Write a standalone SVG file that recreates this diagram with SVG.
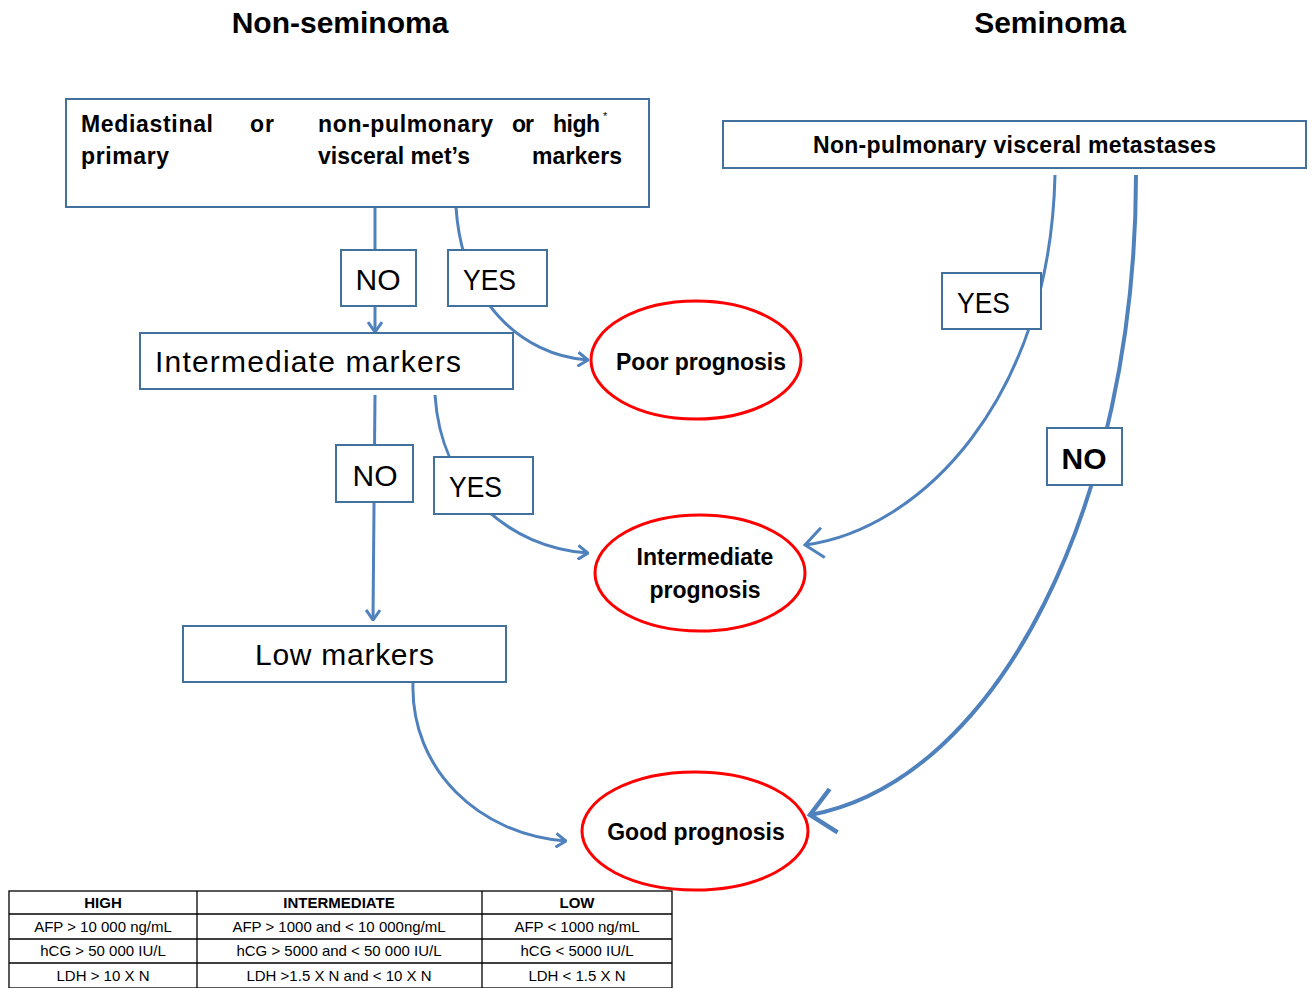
<svg xmlns="http://www.w3.org/2000/svg" width="1313" height="988" viewBox="0 0 1313 988">
<defs>
<style>
text{font-family:"Liberation Sans",Arial,sans-serif;fill:#000}
.title{font-size:30px;font-weight:bold;text-anchor:middle}
.box{fill:#fff;stroke:#41719C;stroke-width:2}
.ell{fill:#fff;stroke:#FF0000;stroke-width:3}
.con{fill:none;stroke:#4F81BD;stroke-width:3}
.lbl{font-size:30px}
.bt{font-size:23px;font-weight:bold}
.pt{font-size:23px;font-weight:bold;text-anchor:middle}
.tb{fill:none;stroke:#000;stroke-width:1.3}
.th{font-size:15px;font-weight:bold;text-anchor:middle}
.td{font-size:15px;text-anchor:middle}
</style>
<marker id="arr" viewBox="0 0 12 16" refX="11" refY="8" markerWidth="12" markerHeight="16" markerUnits="userSpaceOnUse" orient="auto">
<path d="M1,1 L11,8 L1,15" fill="none" stroke="#4F81BD" stroke-width="3"/>
</marker>
<marker id="arrBig" viewBox="0 0 30 50" refX="27" refY="25" markerWidth="30" markerHeight="50" markerUnits="userSpaceOnUse" orient="auto">
<path d="M3,3 L27,25 L3,47" fill="none" stroke="#4F81BD" stroke-width="4.5"/>
</marker>
<marker id="arrMid" viewBox="0 0 22 34" refX="20" refY="17" markerWidth="22" markerHeight="34" markerUnits="userSpaceOnUse" orient="auto">
<path d="M2,2 L20,17 L2,32" fill="none" stroke="#4F81BD" stroke-width="3"/>
</marker>
</defs>
<rect width="1313" height="988" fill="#fff"/>
<text class="title" x="340" y="33">Non-seminoma</text>
<text class="title" x="1050" y="33">Seminoma</text>

<g id="connectors">
<path class="con" d="M375,207 L375,332" marker-end="url(#arr)"/>
<path class="con" d="M456,207 C462,300 520,355 588,360" marker-end="url(#arr)"/>
<path class="con" d="M375,395 L373,620" marker-end="url(#arr)"/>
<path class="con" d="M435,395 C441,490 510,548 588,553" marker-end="url(#arr)"/>
<path class="con" d="M413,682 C410,770 480,835 566,841" marker-end="url(#arr)"/>
<path class="con" d="M1055,175 C1050,400 920,530 805,545" marker-end="url(#arrMid)"/>
<path class="con" style="stroke-width:4" d="M1136,175 C1136,500 1000,780 810,815" marker-end="url(#arrBig)"/>
</g>

<g id="node-mediastinal">
<rect class="box" x="66" y="99" width="583" height="108"/>
<text class="bt" x="81" y="132" textLength="132">Mediastinal</text>
<text class="bt" x="250" y="132" textLength="24">or</text>
<text class="bt" x="318" y="132" textLength="175">non-pulmonary</text>
<text class="bt" x="512" y="132" textLength="22">or</text>
<text class="bt" x="553" y="132" textLength="47">high</text>
<text x="603" y="120" style="font-size:11px">*</text>
<text class="bt" x="81" y="164" textLength="88">primary</text>
<text class="bt" x="318" y="164" textLength="152">visceral met’s</text>
<text class="bt" x="532" y="164" textLength="90">markers</text>
</g>

<g id="node-nonpulm">
<rect class="box" x="723" y="121" width="583" height="47"/>
<text class="bt" x="813" y="153" textLength="403">Non-pulmonary visceral  metastases</text>
</g>

<g id="label-no1">
<rect class="box" x="341" y="250" width="75" height="56"/>
<text class="lbl" x="378" y="290" text-anchor="middle">NO</text>
</g>
<g id="label-yes1">
<rect class="box" x="448" y="250" width="99" height="56"/>
<text class="lbl" x="463" y="290" textLength="53" lengthAdjust="spacingAndGlyphs">YES</text>
</g>

<g id="node-intermediate-markers">
<rect class="box" x="140" y="333" width="373" height="56"/>
<text class="lbl" x="155" y="372" textLength="306">Intermediate markers</text>
</g>

<g id="node-poor">
<ellipse class="ell" cx="696" cy="360" rx="105" ry="59"/>
<text class="pt" x="701" y="370">Poor prognosis</text>
</g>

<g id="label-no2">
<rect class="box" x="336" y="445" width="77" height="57"/>
<text class="lbl" x="375" y="486" text-anchor="middle">NO</text>
</g>
<g id="label-yes2">
<rect class="box" x="434" y="457" width="99" height="57"/>
<text class="lbl" x="449" y="497" textLength="53" lengthAdjust="spacingAndGlyphs">YES</text>
</g>

<g id="node-intermediate-prognosis">
<ellipse class="ell" cx="700" cy="573" rx="105" ry="58"/>
<text class="pt" x="705" y="565">Intermediate</text>
<text class="pt" x="705" y="598">prognosis</text>
</g>

<g id="node-low-markers">
<rect class="box" x="183" y="626" width="323" height="56"/>
<text class="lbl" x="255" y="665" textLength="179">Low markers</text>
</g>

<g id="node-good">
<ellipse class="ell" cx="695" cy="831" rx="113" ry="59"/>
<text class="pt" x="696" y="840">Good prognosis</text>
</g>

<g id="label-yes3">
<rect class="box" x="942" y="273" width="99" height="56"/>
<text class="lbl" x="957" y="313" textLength="53" lengthAdjust="spacingAndGlyphs">YES</text>
</g>
<g id="label-no3">
<rect class="box" x="1047" y="428" width="75" height="57"/>
<text class="lbl" x="1084" y="469" text-anchor="middle" font-weight="bold">NO</text>
</g>

<g id="table">
<rect class="tb" x="9" y="891" width="663" height="97"/>
<line class="tb" x1="9" y1="914" x2="672" y2="914"/>
<line class="tb" x1="9" y1="939" x2="672" y2="939"/>
<line class="tb" x1="9" y1="963" x2="672" y2="963"/>
<line class="tb" x1="197" y1="891" x2="197" y2="988"/>
<line class="tb" x1="482" y1="891" x2="482" y2="988"/>
<text class="th" x="103" y="908">HIGH</text>
<text class="th" x="339" y="908">INTERMEDIATE</text>
<text class="th" x="577" y="908">LOW</text>
<text class="td" x="103" y="932">AFP &gt; 10 000 ng/mL</text>
<text class="td" x="339" y="932">AFP &gt; 1000 and &lt; 10 000ng/mL</text>
<text class="td" x="577" y="932">AFP &lt; 1000 ng/mL</text>
<text class="td" x="103" y="956">hCG &gt; 50 000 IU/L</text>
<text class="td" x="339" y="956">hCG &gt; 5000 and &lt; 50 000 IU/L</text>
<text class="td" x="577" y="956">hCG &lt; 5000 IU/L</text>
<text class="td" x="103" y="981">LDH &gt; 10 X N</text>
<text class="td" x="339" y="981">LDH &gt;1.5 X N and &lt; 10 X N</text>
<text class="td" x="577" y="981">LDH &lt; 1.5 X N</text>
</g>
</svg>
